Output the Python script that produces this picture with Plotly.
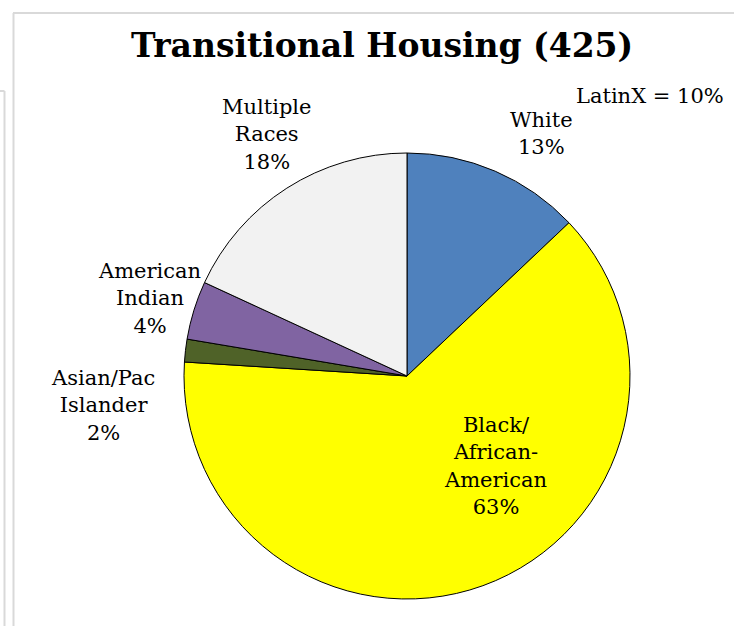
import plotly.graph_objects as go

# data (counts out of 425)
categories = ["White", "Black/<br>African-<br>American", "Asian/Pac<br>Islander",
              "American<br>Indian", "Multiple<br>Races"]
counts = [55, 268, 7, 18, 77]
slice_colours = ["#4F81BD", "#FFFF00", "#4F6228", "#8064A2", "#F2F2F2"]
title_text = "Transitional Housing (425)"
latinx_note = "LatinX = 10%"

W, H = 734, 626
total = sum(counts)

# label centres in pixels (style only)
label_pos = [(541, 133), (495, 466), (103, 405), (149, 298), (267, 135)]


def px(x, y):
    return x / W, 1 - y / H


fig = go.Figure(
    data=go.Pie(
        labels=[c.replace("<br>", " ") for c in categories],
        values=counts,
        sort=False,
        direction="clockwise",
        rotation=0,
        textinfo="none",
        marker={"colors": slice_colours, "line": {"color": "black", "width": 1}},
        domain={"x": [184 / W, 630 / W], "y": [27 / H, 473 / H]},
        showlegend=False,
    )
)

font = {"family": "DejaVu Serif", "size": 21, "color": "black"}
for cat, n, (lx, ly) in zip(categories, counts, label_pos):
    x, y = px(lx, ly)
    fig.add_annotation(
        x=x, y=y, xref="paper", yref="paper",
        text=f"{cat}<br>{round(100 * n / total)}%",
        showarrow=False, xanchor="center", yanchor="middle", font=font,
    )

x, y = px(650, 96)
fig.add_annotation(x=x, y=y, xref="paper", yref="paper", text=latinx_note,
                   showarrow=False, xanchor="center", yanchor="middle", font=font)

x, y = px(382, 46)
fig.add_annotation(x=x, y=y, xref="paper", yref="paper", text=f"<b>{title_text}</b>",
                   showarrow=False, xanchor="center", yanchor="middle",
                   font={"family": "DejaVu Serif", "size": 33, "color": "black"})

# light grey frame lines of the surrounding page
grey = {"color": "#d9d9d9", "width": 2}
frame = [
    (13.5, 626, 13.5, 13), (13, 13, 734, 13),
    (4.5, 626, 4.5, 91), (0, 91, 4.5, 91),
]
for x0, y0, x1, y1 in frame:
    a, b = px(x0, y0)
    c, d = px(x1, y1)
    fig.add_shape(type="line", xref="paper", yref="paper", x0=a, y0=b, x1=c, y1=d, line=grey)

fig.update_layout(
    width=W, height=H,
    margin={"l": 0, "r": 0, "t": 0, "b": 0},
    paper_bgcolor="white",
    plot_bgcolor="white",
)

fig.write_html("out.html", config={"displayModeBar": False},
               post_script="document.body.style.margin='0';")
